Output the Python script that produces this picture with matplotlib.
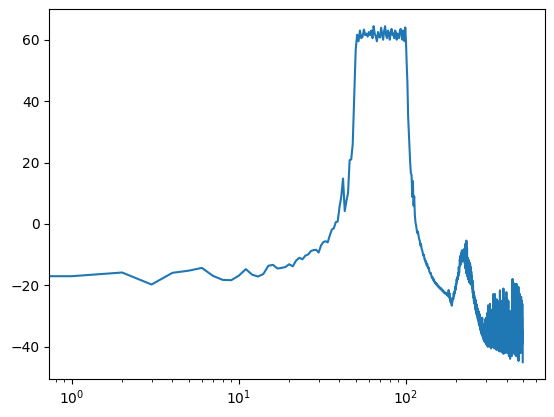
import numpy as np
import matplotlib
matplotlib.use('Agg')
import matplotlib.pyplot as plt

# magnitude in dB, bin index 0..500
db_low = [
    -17.0, -17.0, -15.8, -19.7, -15.9, -15.2, -14.3, -16.9, -18.2, -18.3,
    -16.8, -14.7, -16.5, -17.1, -16.3, -13.6, -13.3, -14.5, -14.3, -14.0,
    -13.1, -13.8, -11.9, -11.0, -11.5, -10.3, -9.9, -8.8, -8.5, -8.4,
    -9.3, -7.0, -5.9, -5.6, -6.0, -3.7, -1.8, -1.4, 0.6, 0.8,
    5.5, 9.0, 14.8, 4.2, 7.5, 10.1, 20.8, 21.0, 26.0, 41.5,
]
db_pass = [
    56.7, 61.6, 59.5, 63.0, 60.5, 61.0, 63.3, 61.5, 62.0, 61.0,
    62.5, 61.5, 63.0, 60.5, 64.4, 62.0, 61.0, 59.5, 62.5, 61.0,
    60.7, 63.9, 62.0, 60.0, 62.8, 64.4, 61.5, 60.5, 63.0, 62.0,
    60.0, 62.5, 63.5, 61.5, 62.0, 60.5, 63.0, 62.5, 60.0, 62.0,
    61.5, 60.5, 63.0, 63.5, 62.0, 60.0, 63.0, 62.0, 59.5, 64.0,
]
db_rolloff = [
    59.5, 52.0, 46.0, 35.0, 29.6, 24.0, 19.8, 16.5, 15.9, 8.8,
    14.0, 6.0, 9.0, 3.0, 0.5, -0.5, -2.0, -3.0, -2.5, -4.0,
    -5.0, -5.5, -7.0, -6.5, -8.0, -8.5, -9.5, -10.3, -10.0, -11.5,
    -11.5, -12.5, -12.2, -13.5, -13.0, -14.0, -14.5, -14.2, -15.5, -15.8,
    -16.2, -16.0, -17.0, -17.5, -17.2, -18.0, -18.4, -18.0, -18.8, -19.2,
    -19.0, -19.6, -19.3, -20.0, -19.7, -20.0, -20.5, -20.2, -20.6, -21.0,
    -20.7, -21.0, -21.3, -21.0, -21.6, -21.8, -21.5, -22.0, -22.3, -22.0,
    -22.2, -22.6, -22.4, -22.8, -22.5, -23.0, -22.8, -23.2, -22.9, -23.5,
    -21.5, -23.8, -22.5, -24.5, -24.0, -25.5, -24.3, -26.0, -26.6, -25.8,
]
db_bump = [
    -25.0, -24.0, -24.5, -22.5, -23.5, -22.0, -22.5, -20.5, -21.5, -19.5,
    -20.0, -18.0, -19.0, -17.3, -18.0, -16.0, -17.0, -14.0, -16.0, -14.5,
    -11.5, -13.5, -10.3, -13.0, -9.5, -12.5, -8.6, -12.0, -9.0, -11.0,
    -8.5, -11.5, -9.5, -12.0, -8.0, -13.0, -6.5, -14.5, -7.0, -16.0,
    -5.4, -15.0, -8.0, -17.0, -11.0, -18.0, -11.5, -17.5, -12.0, -19.0,
    -12.5, -18.5, -13.0, -19.5, -14.0, -18.5, -15.5, -20.0, -17.0, -21.0,
]
db_tail = [
    -18.4, -22.5, -20.0, -24.0, -22.0, -25.0, -23.0, -26.0, -23.9, -27.0,
    -24.5, -28.0, -25.0, -29.0, -26.0, -29.5, -26.5, -30.0, -27.5, -31.0,
    -28.0, -31.5, -28.5, -32.5, -29.0, -33.0, -29.5, -33.5, -30.5, -34.5,
    -31.0, -35.0, -31.5, -35.7, -32.0, -36.0, -30.5, -36.5, -32.5, -37.0,
    -33.0, -37.5, -33.0, -38.0, -34.0, -38.0, -34.0, -38.5, -31.0, -37.5,
    -33.0, -39.0, -30.5, -38.0, -35.5, -39.5, -29.0, -38.0, -33.0, -40.0,
    -26.5, -37.0, -32.0, -39.5, -34.5, -38.5, -30.0, -40.0, -26.0, -37.5,
    -33.5, -39.0, -29.5, -40.5, -35.0, -28.0, -39.5, -31.5, -38.0, -34.0,
    -40.0, -27.5, -38.5, -22.8, -39.5, -30.0, -37.0, -25.5, -40.5, -33.0,
    -38.0, -22.8, -39.0, -29.5, -40.0, -32.0, -37.5, -27.0, -41.0, -24.5,
    -38.0, -31.5, -40.5, -34.0, -39.0, -30.0, -41.0, -33.5, -38.5, -31.0,
    -40.0, -28.5, -41.5, -25.0, -37.0, -21.6, -40.5, -29.0, -38.0, -33.0,
    -41.5, -26.0, -39.5, -32.0, -25.0, -41.0, -30.5, -38.0, -27.5, -42.0,
    -33.5, -24.0, -39.0, -21.0, -42.3, -29.0, -37.5, -31.0, -41.0, -26.0,
    -39.5, -33.0, -26.0, -42.0, -30.5, -38.5, -28.0, -41.5, -34.0, -22.2,
    -40.0, -31.0, -38.0, -24.5, -42.0, -30.0, -37.0, -27.0, -41.5, -32.5,
    -25.0, -39.5, -30.0, -43.0, -33.5, -38.0, -28.5, -42.5, -35.0, -30.0,
    -43.9, -32.0, -39.0, -29.0, -42.0, -34.0, -30.5, -41.0, -36.0, -28.0,
    -43.0, -33.0, -24.0, -40.0, -17.9, -41.5, -26.0, -38.0, -19.0, -42.0,
    -30.5, -36.0, -23.0, -41.0, -27.0, -39.5, -32.0, -19.5, -42.5, -28.5,
    -37.0, -24.0, -41.0, -30.0, -38.5, -21.5, -43.0, -27.5, -36.5, -19.5,
    -41.5, -31.0, -39.0, -25.0, -42.5, -29.0, -37.0, -22.0, -44.0, -31.5,
    -38.0, -20.5, -44.6, -27.0, -40.0, -33.0, -36.5, -25.5, -42.0, -30.0,
    -38.5, -22.8, -41.0, -29.0, -37.0, -24.0, -42.0, -31.0, -38.5, -23.7,
    -41.5, -28.0, -36.0, -25.0, -40.5, -30.5, -37.0, -26.0, -39.0, -35.0,
    -45.0,
]

magnitude = np.array(db_low + db_pass + db_rolloff + db_bump + db_tail)
freq = np.arange(len(magnitude))

fig = plt.figure(figsize=(5.54, 4.17), dpi=100)
ax = fig.add_axes([49.3 / 554, 38 / 417, 496 / 554, 369.6 / 417])
ax.semilogx(freq, magnitude)

fig.savefig('out.png', dpi=100)
